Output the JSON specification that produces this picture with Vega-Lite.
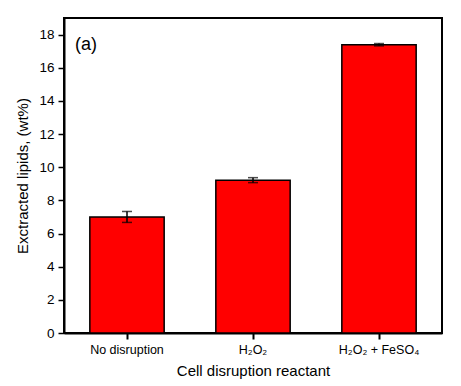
{
  "$schema": "https://vega.github.io/schema/vega-lite/v6.json",
  "width": 378,
  "height": 315,
  "autosize": {"type": "none"},
  "padding": {"left": 64, "top": 18, "right": 19, "bottom": 53},
  "background": "white",
  "config": {
    "view": {"stroke": "black", "strokeWidth": 2},
    "font": "Liberation Sans",
    "axis": {"labelOverlap": false, "labelFlush": false, "ticks": true, "tickColor": "black", "domainColor": "black", "labelColor": "black", "titleColor": "black", "grid": false}
  },
  "title": {"text": "(a)", "anchor": "start", "orient": "top", "frame": "group", "fontSize": 18, "fontWeight": "normal", "font": "Liberation Sans", "color": "black", "baseline": "top", "dx": 11, "dy": 36, "offset": 0},
  "data": {"values": [
    {"reactant": "No disruption", "lipids": 7.0, "low": 6.67, "high": 7.33},
    {"reactant": "H₂O₂", "lipids": 9.22, "low": 9.07, "high": 9.37},
    {"reactant": "H₂O₂ + FeSO₄", "lipids": 17.39, "low": 17.32, "high": 17.46}
  ]},
  "encoding": {
    "x": {"field": "reactant", "type": "nominal", "sort": null,
      "scale": {"paddingInner": 0, "paddingOuter": 0},
      "axis": {"orient": "bottom", "title": "Cell disruption reactant", "titleFont": "Liberation Sans", "titleFontWeight": "normal", "titleFontSize": 15, "titlePadding": 8, "labelFont": "Liberation Sans", "labelFontSize": 12.5, "labelAngle": 0, "tickSize": 6, "tickWidth": 2, "labelPadding": 4, "domainWidth": 2}}
  },
  "layer": [
    {
      "mark": {"type": "bar", "color": "#FF0000", "stroke": "black", "strokeWidth": 1.5, "width": {"band": 0.59}},
      "encoding": {
        "y": {"field": "lipids", "type": "quantitative",
          "scale": {"domain": [0, 19], "nice": false},
          "axis": {"title": "Exctracted lipids, (wt%)", "titleFont": "Liberation Sans", "titleFontWeight": "normal", "titleFontSize": 15, "titlePadding": 8, "labelFont": "Liberation Sans", "labelFontSize": 13.5, "values": [0, 2, 4, 6, 8, 10, 12, 14, 16, 18], "tickSize": 6, "tickWidth": 1.5, "labelPadding": 4, "domainWidth": 2}}
      }
    },
    {
      "mark": {"type": "rule", "color": "black", "strokeWidth": 1.5},
      "encoding": {
        "y": {"field": "low", "type": "quantitative",
          "axis": {"title": "Exctracted lipids, (wt%)", "titleFont": "Liberation Sans", "titleFontWeight": "normal", "titleFontSize": 15, "titlePadding": 8, "labelFont": "Liberation Sans", "labelFontSize": 13.5, "values": [0, 2, 4, 6, 8, 10, 12, 14, 16, 18], "tickSize": 6, "tickWidth": 1.5, "labelPadding": 4, "domainWidth": 2}},
        "y2": {"field": "high"}
      }
    },
    {
      "mark": {"type": "tick", "color": "black", "thickness": 1.5, "size": 10},
      "encoding": {
        "y": {"field": "low", "type": "quantitative",
          "axis": {"title": "Exctracted lipids, (wt%)", "titleFont": "Liberation Sans", "titleFontWeight": "normal", "titleFontSize": 15, "titlePadding": 8, "labelFont": "Liberation Sans", "labelFontSize": 13.5, "values": [0, 2, 4, 6, 8, 10, 12, 14, 16, 18], "tickSize": 6, "tickWidth": 1.5, "labelPadding": 4, "domainWidth": 2}}
      }
    },
    {
      "mark": {"type": "tick", "color": "black", "thickness": 1.5, "size": 10},
      "encoding": {
        "y": {"field": "high", "type": "quantitative",
          "axis": {"title": "Exctracted lipids, (wt%)", "titleFont": "Liberation Sans", "titleFontWeight": "normal", "titleFontSize": 15, "titlePadding": 8, "labelFont": "Liberation Sans", "labelFontSize": 13.5, "values": [0, 2, 4, 6, 8, 10, 12, 14, 16, 18], "tickSize": 6, "tickWidth": 1.5, "labelPadding": 4, "domainWidth": 2}}
      }
    }
  ]
}
